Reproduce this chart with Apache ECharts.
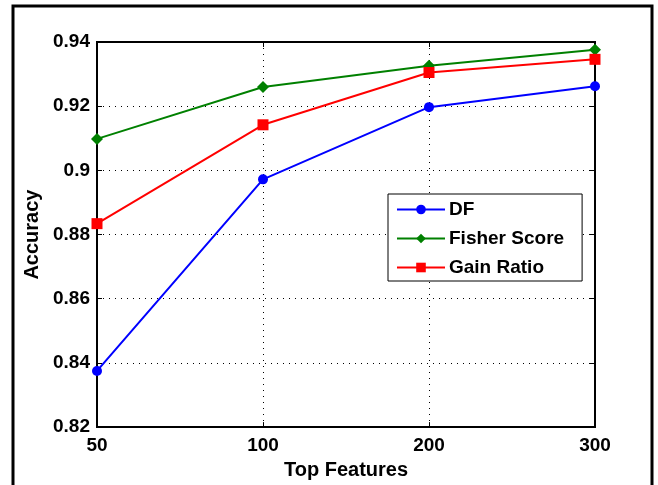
<!DOCTYPE html>
<html>
<head>
<meta charset="UTF-8">
<script src="https://cdn.jsdelivr.net/npm/echarts@6/dist/echarts.min.js"></script>
<style>
  html, body { margin: 0; padding: 0; background: #fff; }
  #main { width: 658px; height: 485px; }
</style>
</head>
<body>
<div id="main"></div>
<script>
// top features on x, accuracy on y
var categories = ['50', '100', '200', '300'];
var dfValues = [0.8375, 0.8972, 0.9197, 0.9262];
var fisherValues = [0.9098, 0.9260, 0.9326, 0.9376];
var gainValues = [0.8834, 0.9142, 0.9305, 0.9346];

var fontBold = { fontFamily: 'Liberation Sans', fontWeight: 'bold', color: '#000' };

var chart = echarts.init(document.getElementById('main'));

function makeSeries(name, data, color, symbol, size) {
  return {
    name: name,
    type: 'line',
    data: data,
    symbol: symbol,
    symbolSize: size,
    showAllSymbol: true,
    lineStyle: { color: color, width: 2 },
    itemStyle: { color: color },
    emphasis: { disabled: true },
    z: 3
  };
}

chart.setOption({
  animation: false,
  backgroundColor: '#fff',
  graphic: [{
    type: 'rect',
    shape: { x: 13, y: 6, width: 639, height: 500 },
    style: { fill: 'none', stroke: '#000', lineWidth: 3 },
    silent: true
  }],
  grid: {
    left: 97, right: 63, top: 42, bottom: 53,
    show: true, borderColor: '#000', borderWidth: 2, backgroundColor: 'transparent'
  },
  legend: {
    orient: 'vertical',
    left: 388, top: 194,
    padding: [6, 18, 4, 8],
    itemGap: 10,
    itemWidth: 48, itemHeight: 12,
    borderColor: '#000', borderWidth: 1,
    backgroundColor: '#fff',
    textStyle: Object.assign({ fontSize: 19, padding: [0, 0, 0, -1] }, fontBold),
    data: ['DF', 'Fisher Score', 'Gain Ratio']
  },
  xAxis: [{
    type: 'category',
    data: categories,
    boundaryGap: false,
    name: 'Top Features',
    nameLocation: 'middle',
    nameGap: 32,
    nameTextStyle: Object.assign({ fontSize: 20 }, fontBold),
    axisLine: { lineStyle: { color: '#000', width: 2 } },
    axisTick: { inside: true, length: 5, lineStyle: { color: '#000', width: 1 } },
    axisLabel: Object.assign({ fontSize: 19, margin: 9 }, fontBold),
    splitLine: { show: true, lineStyle: { color: '#000', type: [1, 5], width: 1 } }
  }, {
    type: 'category',
    data: categories,
    boundaryGap: false,
    position: 'top',
    axisLine: { show: false },
    axisTick: { inside: true, length: 5, lineStyle: { color: '#000', width: 1 } },
    axisLabel: { show: false },
    splitLine: { show: false }
  }],
  yAxis: [{
    type: 'value',
    min: 0.82, max: 0.94, interval: 0.02,
    name: 'Accuracy',
    nameLocation: 'middle',
    nameGap: 51,
    nameTextStyle: Object.assign({ fontSize: 20 }, fontBold),
    axisLine: { show: true, lineStyle: { color: '#000', width: 2 } },
    axisTick: { show: true, inside: true, length: 5, lineStyle: { color: '#000', width: 1 } },
    axisLabel: Object.assign({
      fontSize: 19, margin: 7,
      formatter: function (v) { return String(parseFloat(v.toFixed(2))); }
    }, fontBold),
    splitLine: { show: true, lineStyle: { color: '#000', type: [1, 5], width: 1 } }
  }, {
    type: 'value',
    min: 0.82, max: 0.94, interval: 0.02,
    position: 'right',
    axisLine: { show: false },
    axisTick: { show: true, inside: true, length: 5, lineStyle: { color: '#000', width: 1 } },
    axisLabel: { show: false },
    splitLine: { show: false }
  }],
  series: [
    makeSeries('DF', dfValues, '#0000ff', 'circle', 10),
    makeSeries('Fisher Score', fisherValues, '#008000', 'diamond', 12),
    makeSeries('Gain Ratio', gainValues, '#ff0000', 'rect', 11)
  ]
});
</script>
</body>
</html>
